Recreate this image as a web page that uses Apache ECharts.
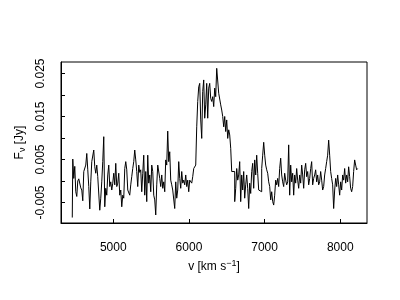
<!DOCTYPE html>
<html><head><meta charset="utf-8">
<script src="https://cdn.jsdelivr.net/npm/echarts@6/dist/echarts.min.js"></script>
<style>html,body{margin:0;padding:0;background:#fff}#c{width:400px;height:300px}</style>
</head><body><div id="c"></div>
<script>
// channel grid (km/s)
const v0 = 4458;
const dv = 13.21;
// flux density per channel (Jy)
const flux = [
-0.0085,0.0051,0.0006,0.0034,-0.0025,-0.0036,0.0000,0.0005,0.0002,-0.0016,
-0.0021,-0.0046,0.0022,0.0018,0.0037,0.0064,0.0026,-0.0013,-0.0065,-0.0002,
0.0045,0.0047,0.0072,0.0033,0.0018,0.0037,0.0010,0.0014,-0.0068,-0.0040,
-0.0002,0.0045,0.0103,-0.0060,-0.0017,-0.0033,0.0014,0.0037,-0.0013,-0.0002,
-0.0021,-0.0005,0.0018,-0.0009,0.0041,-0.0013,-0.0005,0.0018,-0.0033,-0.0021,
-0.0060,-0.0033,-0.0040,0.0029,0.0045,0.0026,-0.0021,-0.0025,-0.0033,-0.0009,
0.0010,0.0029,0.0045,0.0072,0.0049,0.0022,-0.0013,0.0037,0.0020,0.0026,
-0.0025,0.0018,0.0060,-0.0033,0.0022,-0.0048,0.0060,-0.0005,0.0014,-0.0025,
0.0037,0.0022,-0.0033,-0.0044,-0.0079,-0.0009,0.0037,0.0033,0.0006,-0.0013,
0.0014,-0.0017,-0.0002,-0.0025,0.0049,0.0037,0.0116,0.0045,0.0068,0.0002,
-0.0009,-0.0021,-0.0017,-0.0064,-0.0002,-0.0040,-0.0021,0.0045,0.0006,-0.0017,
0.0022,-0.0005,0.0002,-0.0009,0.0014,-0.0013,0.0002,-0.0025,0.0002,-0.0002,
-0.0005,0.0010,0.0029,0.0026,0.0037,0.0126,0.0185,0.0219,0.0227,0.0142,
0.0099,0.0208,0.0235,0.0146,0.0177,0.0227,0.0146,0.0216,0.0227,0.0192,
0.0185,0.0196,0.0173,0.0216,0.0196,0.0262,0.0265,0.0204,0.0200,0.0177,
0.0165,0.0150,0.0126,0.0150,0.0115,0.0142,0.0099,0.0119,0.0107,0.0076,
0.0022,0.0018,0.0022,-0.0048,-0.0017,0.0029,0.0002,0.0014,0.0045,-0.0048,
0.0014,-0.0021,0.0022,-0.0040,-0.0009,0.0014,-0.0017,-0.0064,-0.0005,-0.0029,
0.0022,0.0041,-0.0017,0.0049,0.0014,0.0060,0.0018,-0.0021,-0.0017,-0.0025,
0.0029,0.0060,0.0090,0.0060,0.0037,0.0026,0.0018,-0.0002,-0.0013,-0.0044,
-0.0025,-0.0048,-0.0056,-0.0033,0.0002,-0.0009,0.0006,-0.0013,0.0029,0.0053,
0.0014,-0.0002,-0.0013,0.0018,0.0002,-0.0009,-0.0002,0.0084,-0.0033,0.0037,
-0.0002,0.0018,-0.0033,0.0014,-0.0005,0.0029,0.0002,-0.0017,0.0014,-0.0005,
0.0037,0.0014,-0.0017,0.0026,0.0041,0.0010,0.0022,-0.0009,0.0006,0.0029,
0.0045,-0.0009,0.0006,0.0014,0.0026,-0.0002,0.0014,-0.0009,-0.0002,0.0022,
0.0002,-0.0021,-0.0013,0.0014,0.0029,0.0045,0.0060,0.0095,0.0060,0.0022,
0.0006,-0.0009,-0.0064,-0.0021,0.0006,-0.0013,0.0014,-0.0009,-0.0033,-0.0002,
-0.0021,0.0014,0.0002,0.0029,-0.0005,0.0014,-0.0002,0.0033,0.0010,-0.0017,
-0.0025,-0.0013,0.0022,0.0049,0.0037,0.0026,0.0029
];
const xTicks = [5000, 6000, 7000, 8000];
const yTicks = [-0.005, 0, 0.005, 0.010, 0.015, 0.020, 0.025];
const yLabels = [-0.005, 0.005, 0.015, 0.025];
const xRange = [4309, 8353];
const yRange = [-0.00977, 0.02767];

const data = flux.map((f, i) => [v0 + i * dv, f]);
const font = 'Liberation Sans, Arial, sans-serif';
const chart = echarts.init(document.getElementById('c'), null, {renderer: 'canvas'});
chart.setOption({
  animation: false,
  backgroundColor: '#fff',
  grid: {left: 61, right: 33, top: 62, bottom: 77, show: true, borderColor: '#000', borderWidth: 1, backgroundColor: 'transparent'},
  xAxis: {
    type: 'value', min: xRange[0], max: xRange[1],
    axisLine: {show: true, onZero: false, lineStyle: {color: '#000', width: 1}},
    axisTick: {show: true, inside: true, length: 4, customValues: xTicks, lineStyle: {color: '#000'}},
    axisLabel: {customValues: xTicks, color: '#000', fontFamily: font, fontSize: 12, margin: 19,
      formatter: v => String(Math.round(v))},
    splitLine: {show: false},
    name: 'v [km s{sup|−1}]', nameLocation: 'middle', nameGap: 35,
    nameTextStyle: {color: '#000', fontFamily: font, fontSize: 12,
      rich: {sup: {fontSize: 9, verticalAlign: 'top', padding: [0,0,6,0], fontFamily: font, color: '#000'}}}
  },
  yAxis: {
    type: 'value', min: yRange[0], max: yRange[1],
    axisLine: {show: true, onZero: false, lineStyle: {color: '#000', width: 1}},
    axisTick: {show: true, inside: true, length: 4, customValues: yTicks, lineStyle: {color: '#000'}},
    axisLabel: {customValues: yLabels, rotate: 90, color: '#000', fontFamily: font, fontSize: 12, margin: 14,
      formatter: v => (Math.round(v * 1000) / 1000).toFixed(3)},
    splitLine: {show: false},
    name: 'F{sub|ν} [Jy]', nameLocation: 'middle', nameGap: 32,
    nameTextStyle: {color: '#000', fontFamily: font, fontSize: 12,
      rich: {sub: {fontSize: 9, verticalAlign: 'bottom', padding: [6,0,0,0], fontFamily: font, color: '#000'}}}
  },
  series: [{
    type: 'line', data: data, step: 'middle', showSymbol: false, symbol: 'none',
    lineStyle: {color: '#000', width: 1}, silent: true
  }]
});
</script></body></html>
